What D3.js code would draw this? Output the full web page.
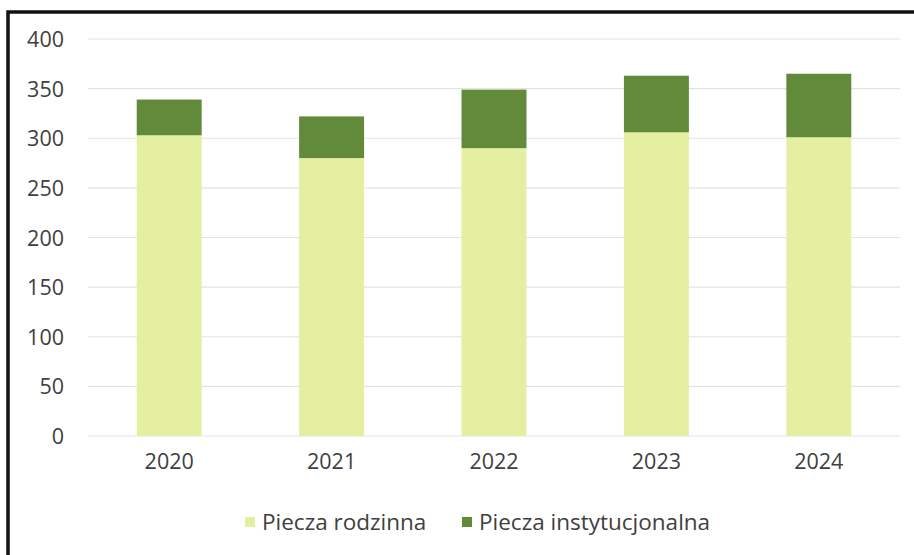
<!DOCTYPE html>
<html><head><meta charset="utf-8">
<script src="https://cdn.jsdelivr.net/npm/d3@7/dist/d3.min.js"></script>
<style>html,body{margin:0;padding:0;background:#fff;}svg{display:block;}</style>
</head><body>
<svg id="chart" width="914" height="555"></svg>
<script>
const years = ["2020", "2021", "2022", "2023", "2024"];
const rodzinna = [303, 280, 290, 306, 301];
const instytucjonalna = [36, 42, 59, 57, 64];
const seriesNames = ["Piecza rodzinna", "Piecza instytucjonalna"];
const seriesColors = ["#e5efa2", "#628a3b"];
const yTicks = [0, 50, 100, 150, 200, 250, 300, 350, 400];

const svg = d3.select("#chart");
const font = "'Open Sans', sans-serif";
const textColor = "#404040";

const x = d3.scaleBand().domain(years).range([88, 900]).paddingInner(0.6).paddingOuter(0.3);
const y = d3.scaleLinear().domain([0, 400]).range([436, 39]);

// gridlines
svg.append("g").selectAll("line").data(yTicks).join("line")
  .attr("x1", 88).attr("x2", 900)
  .attr("y1", d => y(d)).attr("y2", d => y(d))
  .attr("stroke", "#e3e3e3").attr("stroke-width", 1.2);

// stacked data
const rows = years.map((yr, i) => ({year: yr, r: rodzinna[i], ins: instytucjonalna[i]}));
const stack = d3.stack().keys(["r", "ins"])(rows);

svg.append("g").selectAll("g").data(stack).join("g")
  .attr("fill", (d, i) => seriesColors[i])
  .selectAll("rect").data(d => d).join("rect")
  .attr("x", d => x(d.data.year))
  .attr("width", x.bandwidth())
  .attr("y", d => y(d[1]))
  .attr("height", d => y(d[0]) - y(d[1]));

// y axis
const yAxis = d3.axisLeft(y).tickValues(yTicks).tickSize(0).tickPadding(0);
const gy = svg.append("g").attr("transform", "translate(64,0)").call(yAxis);
gy.select(".domain").remove();
gy.selectAll("text").attr("font-family", font).attr("font-size", 21.5).attr("fill", textColor).attr("dy", "0.35em");

// x axis
const xAxis = d3.axisBottom(x).tickSize(0).tickPadding(0);
const gx = svg.append("g").attr("transform", "translate(0,454)").call(xAxis);
gx.select(".domain").remove();
gx.selectAll("text").attr("font-family", font).attr("font-size", 21.5).attr("fill", textColor).attr("dy", "0.71em");

// legend
const legendX = [245, 462];
const legend = svg.append("g");
seriesNames.forEach((name, i) => {
  legend.append("rect").attr("x", legendX[i]).attr("y", 517).attr("width", 10).attr("height", 10).attr("fill", seriesColors[i]);
  legend.append("text").attr("x", legendX[i] + 17).attr("y", 530)
    .attr("font-family", font).attr("font-size", 22.5).attr("fill", textColor).text(name);
});

// frame
svg.append("path").attr("d", "M8,555 L8,12 L914,12").attr("fill", "none").attr("stroke", "#111").attr("stroke-width", 3.5);
</script>
</body></html>
